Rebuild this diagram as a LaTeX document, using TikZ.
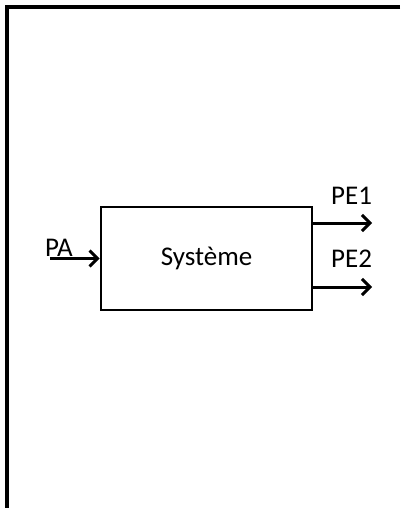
\documentclass[tikz,border=0pt]{standalone}
\usepackage{fontspec}
\setmainfont{Carlito}
\usetikzlibrary{arrows.meta}
\tikzset{
  frameline/.style={line width=3.5pt},
  sysbox/.style={draw, line width=2.6pt, minimum width=211pt, minimum height=103pt, inner sep=0pt, font=\fontsize{27}{32}\selectfont},
  flow/.style={line width=3pt, -{Straight Barb[length=8pt,width=16pt,line width=3pt]}},
  lbl/.style={inner sep=0pt, anchor=base west, font=\fontsize{27}{32}\selectfont}
}
\begin{document}
\begin{tikzpicture}[x=1pt,y=-1pt]
\useasboundingbox (0,0) rectangle (400,508);
\coordinate (ftl) at (7,7);
\coordinate (ftr) at (400,7);
\coordinate (fbl) at (7,508);
\draw[frameline] (ftr) -- (ftl) -- (fbl);
\node[sysbox] (sys) at (206.5,258.5) {Système};
\coordinate (pain) at (50,258.5);
\coordinate (pe1a) at (312,223);
\coordinate (pe1b) at (372,223);
\coordinate (pe2a) at (312,287);
\coordinate (pe2b) at (372,287);
\draw[flow] (pain) -- (sys.west);
\draw[flow] (pe1a) -- (pe1b);
\draw[flow] (pe2a) -- (pe2b);
\node[lbl] (pa) at (45,256) {PA};
\node[lbl] (pe1) at (331,204) {PE1};
\node[lbl] (pe2) at (331,267) {PE2};
\end{tikzpicture}
\end{document}
